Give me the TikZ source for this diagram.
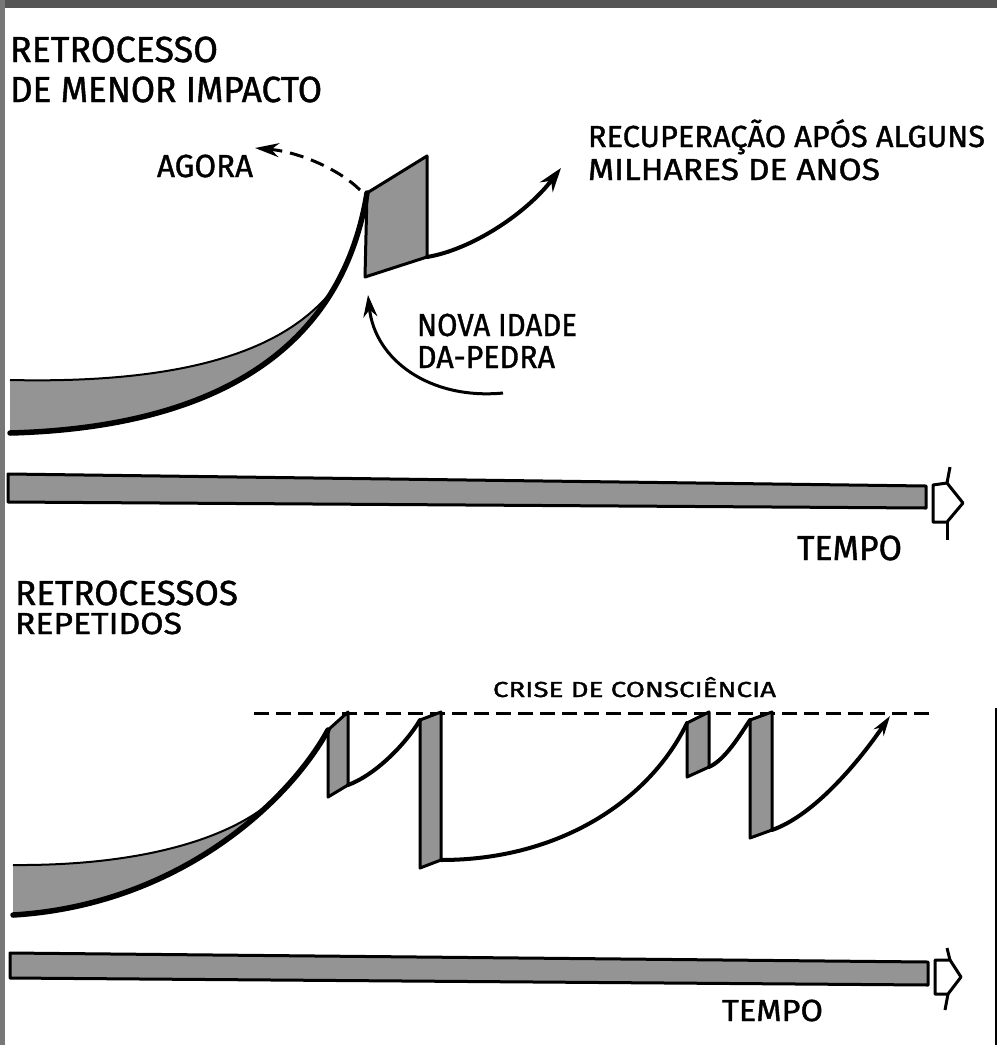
\documentclass[tikz,border=0pt]{standalone}
\usepackage{fontspec}
\setmainfont{Fira Sans}
\newfontfamily\lblfont[FakeBold=1.2]{Fira Sans}
\usepackage{graphicx}
\usetikzlibrary{arrows.meta}
\definecolor{stip}{gray}{0.58}
\definecolor{framegray}{HTML}{555555}
\newcommand\fitlabel[3]{\resizebox{#1pt}{#2pt}{\vphantom{E}\smash{\lblfont #3}}}
\tikzset{
  lbl/.style={anchor=base west, inner sep=0pt, outer sep=0pt},
  blockshape/.style={fill=stip, draw=black, line width=3pt, line join=round},
  mainline/.style={line width=5.5pt, line cap=round},
  recline/.style={line width=4pt, line cap=round},
  tip/.style={-{Stealth[length=24pt,width=16pt]}},
  barshape/.style={fill=stip, draw=black, line width=3pt, line join=round},
  headshape/.style={draw=black, line width=3pt, line join=round, fill=white},
}
\begin{document}
\begin{tikzpicture}[x=1pt,y=-1pt]
\fill[white] (0,0) rectangle (997,1045);
\useasboundingbox (0,0) rectangle (997,1045);
% frame
\fill[framegray] (0,0) rectangle (997,8);
\fill[framegray!80] (0,0) rectangle (5,1045);
\draw[line width=1.5pt] (996,708) -- (996,1045);

% ---------------- top panel ----------------
\node[lbl] (t1a) at (10,62) {\fitlabel{208}{25}{RETROCESSO}};
\node[lbl] (t1b) at (10,102) {\fitlabel{312}{25}{DE MENOR IMPACTO}};
\node[lbl] (agora) at (157,177) {\fitlabel{96}{22}{AGORA}};
\node[lbl] (rec1) at (588,147) {\fitlabel{397}{21}{RECUPERAÇÃO APÓS ALGUNS}};
\node[lbl] (rec2) at (588,180) {\fitlabel{292}{21}{MILHARES DE ANOS}};
\node[lbl] (nova1) at (417,336) {\fitlabel{160}{22}{NOVA IDADE}};
\node[lbl] (nova2) at (417,368) {\fitlabel{138}{22}{DA-PEDRA}};
\node[lbl] (tempo1) at (797,560) {\fitlabel{105}{24}{TEMPO}};

% band
\fill[stip] (10,380) .. controls (230,385) and (300,330) .. (333.5,289.2)
   .. controls (276,386.9) and (158.2,429.1) .. (10,433) -- cycle;
\draw[line width=2pt] (10,380) .. controls (230,385) and (300,330) .. (333.5,289.2);
% block
\coordinate (bTL) at (367,193);
\coordinate (bTR) at (427,156);
\coordinate (bBR) at (427,257);
\coordinate (bBL) at (365,277);
\filldraw[blockshape] (bTL) -- (bTR) -- (bBR) -- (bBL) -- cycle;
% main rising line
\coordinate (m1start) at (10,433);
\draw[mainline] (m1start) .. controls (200,428) and (340,360) .. (bTL);
% recovery arrow
\coordinate (rtip) at (561,168);
\draw[recline,tip] (bBR) .. controls (470,250) and (525,215) .. (rtip);
% dashed "agora" arrow
\coordinate (dstart) at (360,190);
\coordinate (dtip) at (255,148);
\draw[line width=3pt, dash pattern=on 14pt off 8pt, -{Stealth[length=24pt,width=14pt]}] (dstart) .. controls (340,170) and (300,152) .. (dtip);
% nova idade arc
\coordinate (ntail) at (503,393);
\coordinate (ntip) at (368,295);
\draw[line width=3pt, -{Stealth[length=22pt,width=14pt]}] (ntail) .. controls (430,400) and (375,360) .. (ntip);

% time bar 1
\filldraw[barshape] (8,474) -- (926,486) -- (926,508) -- (8,502) -- cycle;
\draw[headshape] (933,485) -- (947,483) -- (963,503) -- (947,522) -- (933,522) -- cycle;
\draw[line width=3pt] (950,467) -- (947,483);
\draw[line width=3pt] (947,522) -- (947,540);

% ---------------- bottom panel ----------------
\node[lbl] (t2a) at (15,605) {\fitlabel{223}{24}{RETROCESSOS}};
\node[lbl] (t2b) at (15,634) {\fitlabel{167}{21}{REPETIDOS}};
\node[lbl] (crise) at (493,697) {\fitlabel{283}{15}{CRISE DE CONSCIÊNCIA}};
\node[lbl] (tempo2) at (722,1021) {\fitlabel{101}{21}{TEMPO}};

\coordinate (cl) at (254,713);
\coordinate (cr) at (935,713);
\draw[line width=3pt, dash pattern=on 15pt off 7pt] (cl) -- (cr);

% band 2
\fill[stip] (13,865) .. controls (150,866) and (240,835) .. (280.2,793.4)
  .. controls (223.9,851.4) and (133.2,907.8) .. (13,915) -- cycle;
\draw[line width=2pt] (13,865) .. controls (150,866) and (240,835) .. (280.2,793.4);

% blocks
\filldraw[blockshape] (328,730) -- (348,712) -- (348,785) -- (328,797) -- cycle;
\filldraw[blockshape] (420,720) -- (441,712) -- (441,860) -- (420,868) -- cycle;
\filldraw[blockshape] (687,723) -- (709,712) -- (709,767) -- (687,777) -- cycle;
\filldraw[blockshape] (750,720) -- (772,712) -- (772,830) -- (750,838) -- cycle;

\coordinate (m2start) at (13,915);
\coordinate (s1TL) at (328,730);
\coordinate (s1BR) at (348,785);
\coordinate (s2TL) at (420,720);
\coordinate (s2BR) at (441,860);
\coordinate (s3TL) at (687,723);
\coordinate (s3BR) at (709,767);
\coordinate (s4TL) at (750,720);
\coordinate (s4BR) at (772,830);
\coordinate (s5tip) at (890,716);
\draw[mainline] (m2start) .. controls (180,905) and (290,800) .. (s1TL);
\draw[recline] (s1BR) .. controls (375,775) and (405,745) .. (s2TL);
\draw[recline] (s2BR) .. controls (560,860) and (650,800) .. (s3TL);
\draw[recline] (s3BR) .. controls (725,760) and (740,735) .. (s4TL);
\draw[recline,-{Stealth[length=20pt,width=12pt]}] (s4BR) .. controls (815,815) and (860,760) .. (s5tip);

% time bar 2
\filldraw[barshape] (10,953) -- (928,962) -- (928,985) -- (10,978) -- cycle;
\draw[headshape] (935,960) -- (950,960) -- (961,977) -- (948,994) -- (935,994) -- cycle;
\draw[line width=3pt] (947,948) -- (950,960);
\draw[line width=3pt] (948,994) -- (945,1010);
\end{tikzpicture}
\end{document}
